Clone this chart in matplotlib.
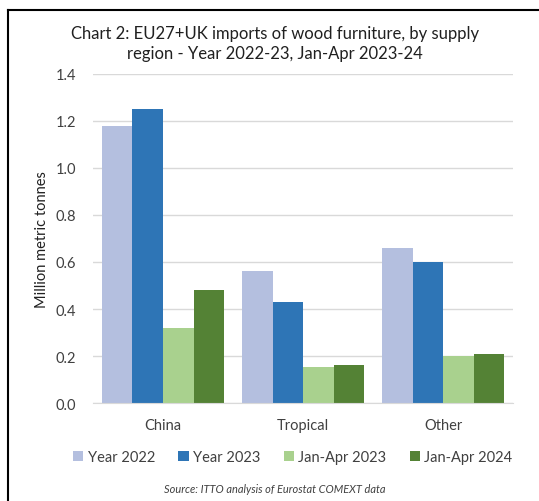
import matplotlib.pyplot as plt
from matplotlib.lines import Line2D
import numpy as np

plt.rcParams['font.family'] = ['Lato', 'DejaVu Sans']

regions = ['China', 'Tropical', 'Other']
series = ['Year 2022', 'Year 2023', 'Jan-Apr 2023', 'Jan-Apr 2024']
year_2022 = [1.18, 0.56, 0.66]
year_2023 = [1.25, 0.43, 0.60]
jan_apr_2023 = [0.32, 0.155, 0.20]
jan_apr_2024 = [0.48, 0.16, 0.21]
colors = ['#B4BFDF', '#2E75B6', '#A9D18E', '#548235']

fig = plt.figure(figsize=(5.39, 5.02), dpi=100)
ax = fig.add_axes([0.1725, 0.195, 0.78, 0.656])

x = np.arange(len(regions))
w = 0.218
for i, (vals, c, name) in enumerate(zip([year_2022, year_2023, jan_apr_2023, jan_apr_2024], colors, series)):
    ax.bar(x + (i - 1.5) * w, vals, w, color=c, label=name, zorder=2)

ax.set_xlim(-0.5, 2.5)
ax.set_ylim(0, 1.4)
ax.set_yticks(np.arange(0, 1.41, 0.2))
ax.set_yticklabels([f'{v:.1f}' for v in np.arange(0, 1.41, 0.2)])
ax.set_xticks(x)
ax.set_xticklabels(regions)
ax.grid(axis='y', color='#D9D9D9', linewidth=1, zorder=0)
for s in ['top', 'right', 'left']:
    ax.spines[s].set_visible(False)
ax.spines['bottom'].set_color('#D9D9D9')
ax.tick_params(length=0, labelsize=10.5, colors='#404040')
ax.tick_params(axis='x', pad=11)
ax.tick_params(axis='y', pad=12)
ax.set_ylabel('Million metric tonnes', fontsize=10.5, color='#202020', labelpad=5)

fig.text(0.51, 0.912, 'Chart 2: EU27+UK imports of wood furniture, by supply\nregion - Year 2022-23, Jan-Apr 2023-24',
         ha='center', va='center', fontsize=12, color='#202020', linespacing=1.35)

ax.legend(loc='center', ncol=4, frameon=False, fontsize=10.5, handlelength=0.7, handleheight=0.7,
          handletextpad=0.3, columnspacing=1.6, labelcolor='#404040')
ax.get_legend().set_bbox_to_anchor((0.543, 0.088), transform=fig.transFigure)

fig.text(0.51, 0.024, 'Source: ITTO analysis of Eurostat COMEXT data', ha='center', va='center',
         fontsize=7.9, style='italic', color='#404040')

# frame lines along the top and left edge
fig.add_artist(Line2D([0.015, 1.0], [0.978, 0.978], transform=fig.transFigure, color='black', linewidth=1.5))
fig.add_artist(Line2D([0.015, 0.015], [0.0, 0.978], transform=fig.transFigure, color='black', linewidth=1.5))

fig.savefig('out.png', dpi=100)
